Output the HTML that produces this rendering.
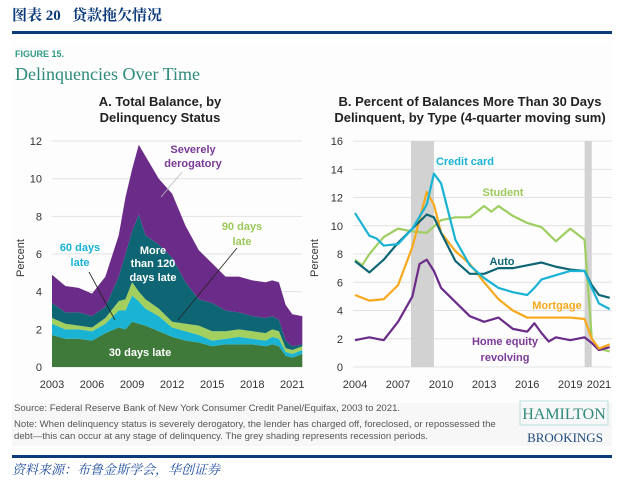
<!DOCTYPE html>
<html><head><meta charset="utf-8"><style>
body{margin:0;width:629px;height:490px;background:#fff;font-family:"Liberation Sans",sans-serif;overflow:hidden;position:relative}
.hd{position:absolute;left:12px;top:4px;font:bold 15px "Liberation Serif","Noto Serif CJK SC",serif;color:#0b3a7a}
.ln{position:absolute;left:12px;width:600px;height:3px;background:#0b3a7a}
.ft{position:absolute;left:12px;top:459px;font:italic 13px "Liberation Serif","Noto Serif CJK SC",serif;color:#1f4ea0}
</style></head><body>
<div class="hd">图表 20&nbsp;&nbsp;&nbsp;贷款拖欠情况</div>
<div class="ln" style="top:31px"></div>
<svg id="s" width="629" height="490" style="position:absolute;left:0;top:0">
<rect x="12" y="43" width="600" height="403" fill="#f7f7f7"/>
<rect x="12" y="43" width="600" height="360" fill="#fdfdfd"/>
<text x="15" y="57" font-size="9" font-weight="bold" fill="#2e9a84">FIGURE 15.</text>
<text x="15" y="80" font-size="18" font-family="Liberation Serif,serif" fill="#2e8a7a">Delinquencies Over Time</text>
<text x="160" y="106" font-size="13" font-weight="bold" text-anchor="middle" fill="#222">A. Total Balance, by</text>
<text x="160" y="122" font-size="13" font-weight="bold" text-anchor="middle" fill="#222">Delinquency Status</text>
<text x="470" y="106" font-size="13" font-weight="bold" text-anchor="middle" fill="#222">B. Percent of Balances More Than 30 Days</text>
<text x="470" y="122" font-size="13" font-weight="bold" text-anchor="middle" fill="#222">Delinquent, by Type (4-quarter moving sum)</text>
<g id="ga"></g><g id="gb"></g>
<text x="14" y="411" font-size="9.6" fill="#555">Source:  Federal Reserve Bank of New York Consumer Credit Panel/Equifax, 2003 to 2021.</text>
<text x="14" y="427" font-size="9.6" fill="#555">Note: When delinquency status is severely derogatory, the lender has charged off, foreclosed, or repossessed the</text>
<text x="14" y="439" font-size="9.6" fill="#555">debt—this can occur at any stage of delinquency. The grey shading represents recession periods.</text>
<rect x="520" y="401" width="88" height="24" fill="none" stroke="#8cc" stroke-width="0.6"/>
<text x="564" y="419" font-size="16" font-family="Liberation Serif,serif" text-anchor="middle" fill="#2e8a7a">HAMILTON</text>
<text x="565" y="442" font-size="13" font-family="Liberation Serif,serif" text-anchor="middle" fill="#1f4a80">BROOKINGS</text>
</svg>
<div class="ln" style="top:455px"></div>
<div class="ft">资料来源：布鲁金斯学会，华创证券</div>
<script>
const aYears=[2003,2004,2005,2006,2007,2008,2008.5,2009,2009.5,2010,2011,2012,2013,2014,2015,2016,2017,2018,2019,2019.5,2020,2020.5,2021,2021.75];
const a30=[1.7,1.5,1.5,1.4,1.8,2.1,2.0,2.4,2.3,2.2,1.9,1.6,1.4,1.3,1.1,1.2,1.2,1.2,1.1,1.2,1.1,0.6,0.5,0.7];
const a60=[0.6,0.5,0.5,0.5,0.5,0.9,1.0,1.4,1.2,0.9,0.8,0.5,0.5,0.4,0.3,0.3,0.4,0.3,0.3,0.4,0.4,0.2,0.2,0.2];
const a90=[0.3,0.3,0.2,0.2,0.3,0.5,0.6,0.7,0.5,0.5,0.4,0.3,0.4,0.5,0.5,0.4,0.4,0.4,0.4,0.4,0.4,0.2,0.2,0.2];
const a120=[0.8,0.6,0.7,0.6,0.6,1.3,2.4,2.7,4.1,3.4,3.4,3.4,2.2,1.4,1.5,1.1,0.9,0.8,0.8,0.7,0.6,0.4,0.2,0.1];
const aSev=[1.5,1.4,1.3,1.2,1.6,2.2,3.0,3.3,3.7,4.2,3.5,3.4,3.0,2.6,2.1,1.8,1.9,1.9,1.9,1.9,2.0,1.9,1.7,1.5];
const aYTicks=[0,2,4,6,8,10,12];
const aXTicks=[2003,2006,2009,2012,2015,2018,2021];

const ccX=[2004,2005,2005.5,2006,2007,2008,2009,2009.5,2010,2010.5,2011,2012,2013,2014,2015,2016,2016.5,2017,2018,2019,2020,2020.5,2021,2021.75];
const ccY=[10.9,9.3,9.1,8.6,8.7,9.8,11.5,13.7,13.0,11.0,9.0,7.2,6.3,5.6,5.3,5.1,5.6,6.2,6.5,6.8,6.8,5.6,4.5,4.1];
const stX=[2004,2004.5,2005,2006,2007,2008,2009,2010,2011,2012,2013,2013.5,2014,2015,2016,2017,2018,2019,2019.5,2020,2020.5,2021,2021.75];
const stY=[7.6,7.2,8.0,9.2,9.8,9.6,9.5,10.4,10.6,10.6,11.4,11.0,11.4,10.7,10.2,9.9,8.9,9.8,9.4,9.0,2.0,1.3,1.1];
const auX=[2004,2005,2006,2007,2008,2009,2009.5,2010,2011,2012,2013,2014,2015,2016,2017,2018,2019,2020,2020.5,2021,2021.75];
const auY=[7.5,6.7,7.6,8.8,9.8,10.8,10.6,9.5,7.5,6.6,6.6,7.0,7.0,7.2,7.4,7.1,6.9,6.8,5.8,5.1,4.9];
const moX=[2004,2005,2006,2007,2008,2009,2009.5,2010,2011,2012,2013,2014,2015,2016,2017,2018,2019,2020,2020.5,2021,2021.75];
const moY=[5.1,4.7,4.8,5.8,8.5,12.4,11.5,9.5,8.2,7.3,6.0,4.8,4.0,3.5,3.5,3.5,3.5,3.4,2.0,1.3,1.6];
const heX=[2004,2005,2006,2007,2008,2008.5,2009,2009.5,2010,2011,2012,2013,2014,2015,2016,2016.5,2017,2017.5,2018,2019,2020,2020.5,2021,2021.75];
const heY=[1.9,2.1,1.9,3.2,5.0,7.3,7.6,6.8,5.6,4.6,3.6,3.2,3.5,2.7,2.5,3.1,2.4,1.8,2.1,1.9,2.1,1.7,1.2,1.4];
const recessions=[[2007.9,2009.5],[2020.0,2020.5]];
const bYTicks=[0,2,4,6,8,10,12,14,16];
const bXTicks=[2004,2007,2010,2013,2016,2019,2021];

const NS="http://www.w3.org/2000/svg";
function mk(p,t,at){const e=document.createElementNS(NS,t);for(const k in at)e.setAttribute(k,at[k]);p.appendChild(e);return e;}
function tx(p,x,y,s,at){const e=mk(p,'text',Object.assign({x:x,y:y},at));e.textContent=s;return e;}

const ga=document.getElementById('ga');
const ax=y=>52+(y-2003)*13.35, ay=v=>367-v*18.83;
aYTicks.forEach(v=>{
  const l=mk(ga,'line',{x1:52,x2:302,y1:ay(v),y2:ay(v),stroke:'#e2e2e2'});
  
  const t=tx(ga,42,ay(v)+4,String(v),{'font-size':11,'text-anchor':'end',fill:'#333'});
  
});
aXTicks.forEach(v=>{const t=tx(ga,ax(v),388,String(v),{'font-size':11,'text-anchor':'middle',fill:'#333'});
  });
const at=tx(ga,0,0,'Percent',{'font-size':11,fill:'#333',transform:'translate(24,258) rotate(-90)','text-anchor':'middle'});

const layers=[[a30,'#3f7a3b','area-30-days'],[a60,'#1ab3d3','area-60-days'],[a90,'#a3cf5e','area-90-days'],[a120,'#0e6675','area-120-plus-days'],[aSev,'#6b2b88','area-severely-derogatory']];
let base=aYears.map(()=>0);
layers.forEach(([vals,col,nm])=>{
  const top=base.map((b,i)=>b+vals[i]);
  let d='M'+aYears.map((y,i)=>ax(y)+','+ay(top[i])).join('L');
  for(let i=aYears.length-1;i>=0;i--)d+='L'+ax(aYears[i])+','+ay(base[i]);
  const p=mk(ga,'path',{d:d+'Z',fill:col});
  
  base=top;
});
mk(ga,'line',{x1:182,y1:172,x2:161,y2:197,stroke:'#bbb','stroke-width':0.8});
mk(ga,'line',{x1:89,y1:272,x2:115,y2:320,stroke:'#222','stroke-width':0.8});
mk(ga,'line',{x1:237,y1:248,x2:178,y2:320,stroke:'#222','stroke-width':0.8});
[['Severely',193,153,'#7a3a96'],['derogatory',193,167,'#7a3a96'],['More',153,254,'#fff'],['than 120',153,267,'#fff'],['days late',153,281,'#fff'],['60 days',80,251,'#1ab3d3'],['late',80,266,'#1ab3d3'],['90 days',242,230,'#9cc95a'],['late',242,245,'#9cc95a'],['30 days late',140,356,'#fff']].forEach(([s,x,y,c])=>{
  const t=tx(ga,x,y,s,{'font-size':11,'font-weight':'bold','text-anchor':'middle',fill:c});
  
});

const gb=document.getElementById('gb');
const bx=y=>355+(y-2004)*14.35, by=v=>367-v*14.12;
bYTicks.forEach(v=>{
  const l=mk(gb,'line',{x1:353,x2:612,y1:by(v),y2:by(v),stroke:'#e2e2e2'});
  
  const t=tx(gb,343,by(v)+4,String(v),{'font-size':11,'text-anchor':'end',fill:'#333'});
  
});
bXTicks.forEach(v=>{const t=tx(gb,bx(v),388,String(v),{'font-size':11,'text-anchor':'middle',fill:'#333'});
  });
const bt=tx(gb,0,0,'Percent',{'font-size':11,fill:'#333',transform:'translate(318,258) rotate(-90)','text-anchor':'middle'});

recessions.forEach(([a,b])=>{const r=mk(gb,'rect',{x:bx(a),y:by(16),width:bx(b)-bx(a),height:by(0)-by(16),fill:'#d2d2d2'});
  });
[[stX,stY,'#9fce62','line-student'],[heX,heY,'#6b2b88','line-home-equity'],[moX,moY,'#f7a81b','line-mortgage'],[auX,auY,'#0e6675','line-auto'],[ccX,ccY,'#1ab3d3','line-credit-card']].forEach(([X,Y,c,nm])=>{
  const p=mk(gb,'path',{d:'M'+X.map((x,i)=>bx(x)+','+by(Y[i])).join('L'),fill:'none',stroke:c,'stroke-width':2.2,'stroke-linejoin':'round'});
  
});
[['Credit card',465,165,'#1ab3d3'],['Student',503,196,'#9cc95a'],['Auto',502,265,'#0e6675'],['Mortgage',557,309,'#f7a81b'],['Home equity',505,345,'#7a3a96'],['revolving',505,361,'#7a3a96']].forEach(([s,x,y,c])=>{
  const t=tx(gb,x,y,s,{'font-size':11,'font-weight':'bold','text-anchor':'middle',fill:c});
  
});
</script>
</body></html>
